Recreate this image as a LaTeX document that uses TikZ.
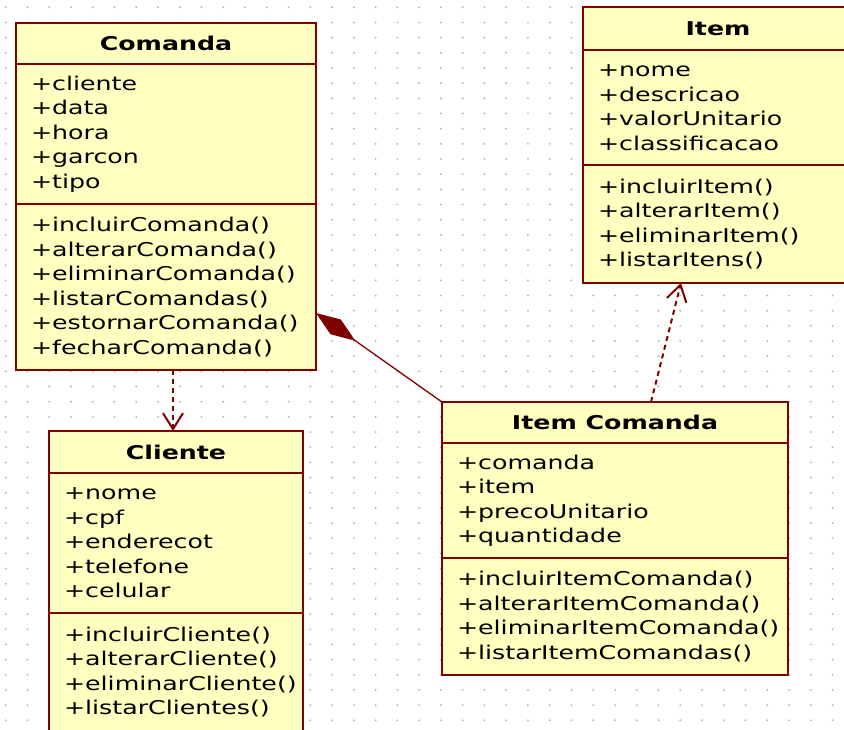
\documentclass[tikz,border=0pt]{standalone}
\usepackage{fontspec}
\setmainfont{DejaVu Sans}[FakeStretch=1.33]
\usetikzlibrary{arrows.meta}
\usetikzlibrary{positioning}
\definecolor{umlred}{RGB}{128,0,0}
\definecolor{umlfill}{RGB}{255,255,192}
\definecolor{griddot}{RGB}{185,185,185}
\newcommand{\umlsize}{\fontsize{19}{24.5}\selectfont}

\begin{document}
\begin{tikzpicture}[x=1pt, y=-1pt,
  classhdr/.style={draw=umlred, fill=umlfill, line width=2pt, outer sep=0pt, inner sep=0pt,
    font=\umlsize\bfseries, anchor=north west},
  classpart/.style={draw=umlred, fill=umlfill, line width=2pt, outer sep=0pt, inner xsep=15pt,
    inner ysep=0pt, align=left, font=\umlsize},
  dependency/.style={draw=umlred, line width=2pt, dash pattern=on 5pt off 4pt,
    -{Straight Barb[length=16pt,width=20pt]}},
  composition/.style={draw=umlred, line width=1.3pt, -{Diamond[length=48pt,width=18pt]}}]
\useasboundingbox (0,0) rectangle (844,729);
\clip (0,0) rectangle (844,729);
\foreach \i in {0,...,38}
  \foreach \j in {0,...,47}
    \fill[griddot] (5.7+21.76*\i, 7.3+15.17*\j) circle (1.1pt);

% Comanda
\node[classhdr, minimum width=300pt, minimum height=41pt] (comanda) at (16,23) {Comanda};
\node[classpart, below=0pt of comanda, minimum width=300pt, text width=270pt, minimum height=140pt]
  (comandaAttr) {+cliente\\+data\\+hora\\+garcon\\+tipo};
\node[classpart, below=0pt of comandaAttr, minimum width=300pt, text width=270pt, minimum height=166pt]
  (comandaOps) {+incluirComanda()\\+alterarComanda()\\+eliminarComanda()\\+listarComandas()\\+estornarComanda()\\+fecharComanda()};

% Cliente
\node[classhdr, minimum width=254pt, minimum height=42pt] (cliente) at (49,431) {Cliente};
\node[classpart, below=0pt of cliente, minimum width=254pt, text width=224pt, minimum height=140pt]
  (clienteAttr) {+nome\\+cpf\\+enderecot\\+telefone\\+celular};
\node[classpart, below=0pt of clienteAttr, minimum width=254pt, text width=224pt, minimum height=118pt]
  (clienteOps) {+incluirCliente()\\+alterarCliente()\\+eliminarCliente()\\+listarClientes()};

% Item
\node[classhdr, minimum width=270pt, minimum height=43pt] (item) at (583,7) {Item};
\node[classpart, below=0pt of item, minimum width=270pt, text width=240pt, minimum height=115pt]
  (itemAttr) {+nome\\+descricao\\+valorUnitario\\+classificacao};
\node[classpart, below=0pt of itemAttr, minimum width=270pt, text width=240pt, minimum height=118pt]
  (itemOps) {+incluirItem()\\+alterarItem()\\+eliminarItem()\\+listarItens()};

% Item Comanda
\node[classhdr, minimum width=346pt, minimum height=41pt] (itemcomanda) at (442,402) {Item Comanda};
\node[classpart, below=0pt of itemcomanda, minimum width=346pt, text width=316pt, minimum height=115pt]
  (itemcomandaAttr) {+comanda\\+item\\+precoUnitario\\+quantidade};
\node[classpart, below=0pt of itemcomandaAttr, minimum width=346pt, text width=316pt, minimum height=117pt]
  (itemcomandaOps) {+incluirItemComanda()\\+alterarItemComanda()\\+eliminarItemComanda()\\+listarItemComandas()};

\draw[dependency] ([xshift=7pt]comandaOps.south) -- ([xshift=-3pt]cliente.north);
\draw[dependency] ([xshift=36pt]itemcomanda.north) -- ([xshift=-37pt]itemOps.south);
\draw[composition] (itemcomanda.north west) -- ([yshift=57pt]comandaOps.south east);
\end{tikzpicture}
\end{document}
